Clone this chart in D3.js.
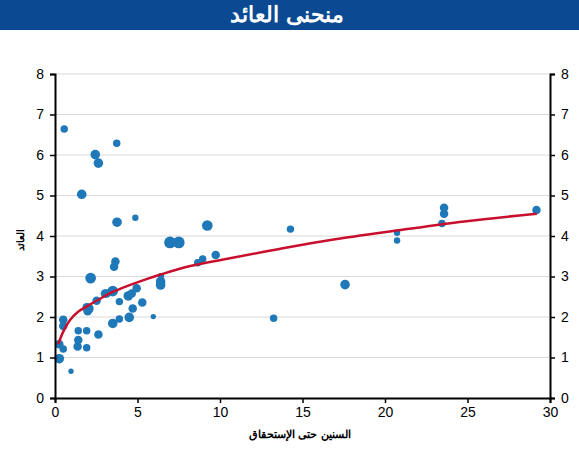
<!DOCTYPE html>
<html>
<head>
<meta charset="utf-8">
<script src="https://cdn.jsdelivr.net/npm/d3@7"></script>
<style>
  body { margin: 0; background: #fff; }
  svg { display: block; font-family: "Liberation Sans", Arial, sans-serif; }
</style>
</head>
<body>
<svg id="chart"></svg>
<script>
// data
var years = [0.56, 2.44, 2.63, 3.74, 1.62, 3.76, 4.87, 6.97, 7.5, 9.23,
             2.16, 3.58, 3.66, 3.5, 3.13, 2.52, 2.02, 1.92, 1.98, 0.5,
             0.5, 0.26, 0.5, 0.26, 0.97, 1.41, 1.92, 1.41, 1.37, 1.92,
             2.63, 3.5, 3.9, 3.9, 4.44, 4.65, 4.95, 4.5, 4.71, 5.29,
             5.96, 6.4, 6.4, 6.42, 8.65, 8.95, 9.74, 14.27, 13.25, 17.58,
             20.73, 20.73, 23.58, 23.58, 23.45, 29.18, 3.03];
var yields = [6.64, 6.01, 5.8, 6.29, 5.03, 4.34, 4.45, 3.84, 3.84, 4.26,
              2.96, 3.24, 3.37, 2.64, 2.58, 2.4, 2.21, 2.24, 2.14, 1.93,
              1.78, 1.33, 1.21, 0.97, 0.66, 1.66, 1.66, 1.43, 1.27, 1.24,
              1.57, 1.84, 1.95, 2.38, 2.52, 2.58, 2.71, 1.99, 2.21, 2.36,
              2.01, 2.87, 2.79, 3.01, 3.34, 3.43, 3.53, 4.17, 1.97, 2.8,
              4.08, 3.89, 4.7, 4.55, 4.31, 4.64, 2.58];
var sizes = [3.5, 4.5, 4.5, 3.5, 4.5, 4.5, 3, 5.5, 5.5, 5,
             5, 4, 4, 5, 4, 4, 5, 4, 4, 4,
             4, 4, 3.5, 4.5, 2.5, 3.5, 3.5, 4, 4, 3.5,
             4, 4.5, 3.5, 3.5, 4.5, 4, 4, 4.5, 4, 4,
             2.5, 4.5, 4.5, 3, 3.5, 3.5, 4, 3.5, 3.5, 4.5,
             3, 3, 4, 4, 3.5, 4, 4];

var curveX = [0.2, 0.5, 0.9, 1.4, 2, 2.6, 3.4, 4.4, 5.5, 6.4, 8.2, 10.6, 13.6, 16.7, 20.8, 24.8, 29.2];
var curveY = [1.33, 1.64, 1.92, 2.13, 2.28, 2.42, 2.6, 2.77, 2.93, 3.05, 3.26, 3.45, 3.68, 3.9, 4.14, 4.36, 4.55];

var xTicks = [0, 5, 10, 15, 20, 25, 30];
var yTicks = [0, 1, 2, 3, 4, 5, 6, 7, 8];

var title = "منحنى العائد";
var xTitle = "السنين حتى الإستحقاق";
var yTitle = "العائد";

// layout
var width = 579;
var height = 450;
var margin = { top: 74, right: 29, bottom: 52, left: 55 };

var svg = d3.select("#chart").attr("width", width).attr("height", height);

var x = d3.scaleLinear().domain([0, 30]).range([margin.left, width - margin.right]);
var y = d3.scaleLinear().domain([0, 8]).range([height - margin.bottom, margin.top]);
var r = d3.scaleLinear().domain([0, 6]).range([0, 6.4]);

// title band
svg.append("rect")
  .attr("x", 0).attr("y", 0)
  .attr("width", width).attr("height", 30)
  .attr("fill", "#0b4a92");

svg.append("text")
  .attr("x", 287).attr("y", 22)
  .attr("text-anchor", "middle")
  .attr("fill", "#fff")
  .attr("font-size", "22px")
  .attr("font-weight", "bold")
  .attr("direction", "rtl")
  .text(title);

// grid
svg.append("g")
  .selectAll("line")
  .data(yTicks.filter(function (d) { return d > 0; }))
  .join("line")
  .attr("x1", x(0)).attr("x2", x(30))
  .attr("y1", function (d) { return y(d); })
  .attr("y2", function (d) { return y(d); })
  .attr("stroke", "#d9d9d9")
  .attr("stroke-width", 1);

// points
svg.append("g")
  .selectAll("circle")
  .data(d3.range(years.length))
  .join("circle")
  .attr("cx", function (i) { return x(years[i]); })
  .attr("cy", function (i) { return y(yields[i]); })
  .attr("r", function (i) { return r(sizes[i]); })
  .attr("fill", "#1f78b8");

// trend line
var pts = curveX.map(function (d, i) { return [x(d), y(curveY[i])]; });
svg.append("path")
  .attr("d", d3.line().curve(d3.curveCatmullRom)(pts))
  .attr("fill", "none")
  .attr("stroke", "#c8102e")
  .attr("stroke-width", 2.5);

// axes
var leftAxis = d3.axisLeft(y).tickValues(yTicks).tickSize(5).tickPadding(6);
var rightAxis = d3.axisRight(y).tickValues(yTicks).tickSize(5).tickPadding(6);
var bottomAxis = d3.axisBottom(x).tickValues(xTicks).tickSize(5).tickPadding(4);

function style(g) {
  g.select(".domain").attr("stroke", "#000").attr("stroke-width", 2);
  g.selectAll(".tick line").attr("stroke", "#000").attr("stroke-width", 1.5);
  g.selectAll(".tick text").attr("font-size", "14px").attr("fill", "#000")
    .attr("font-family", "Liberation Sans, Arial, sans-serif");
}

svg.append("g").attr("transform", "translate(" + margin.left + ",0)").call(leftAxis).call(style);
svg.append("g").attr("transform", "translate(" + (width - margin.right) + ",0)").call(rightAxis).call(style);
svg.append("g").attr("transform", "translate(0," + (height - margin.bottom) + ")").call(bottomAxis).call(style);

// axis titles
svg.append("text")
  .attr("x", 300).attr("y", 438)
  .attr("text-anchor", "middle")
  .attr("font-size", "11px")
  .attr("font-weight", "bold")
  .attr("direction", "rtl")
  .text(xTitle);

svg.append("text")
  .attr("transform", "translate(24,240) rotate(-90)")
  .attr("text-anchor", "middle")
  .attr("font-size", "10px")
  .attr("font-weight", "bold")
  .attr("direction", "rtl")
  .text(yTitle);
</script>
</body>
</html>
